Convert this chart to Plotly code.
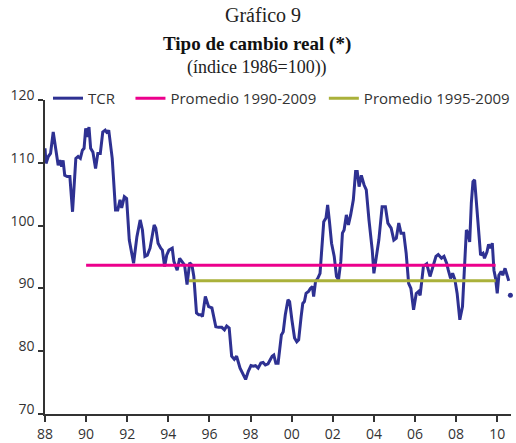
import plotly.graph_objects as go

# ---- data ----
tcr_year = [
    1988.00, 1988.05, 1988.16, 1988.27, 1988.40, 1988.52, 1988.64, 1988.72, 1988.81, 1988.88,
    1988.96, 1989.08, 1989.21, 1989.34, 1989.50, 1989.61, 1989.72, 1989.82, 1989.90, 1989.98,
    1990.06, 1990.14, 1990.22, 1990.33, 1990.46, 1990.57, 1990.69, 1990.81, 1990.93, 1991.04,
    1991.10, 1991.27, 1991.43, 1991.54, 1991.65, 1991.73, 1991.86, 1991.97, 1992.10, 1992.31,
    1992.47, 1992.63, 1992.74, 1992.86, 1992.98, 1993.11, 1993.31, 1993.39, 1993.50, 1993.63,
    1993.71, 1993.82, 1993.92, 1994.03, 1994.19, 1994.27, 1994.35, 1994.43, 1994.55, 1994.67,
    1994.79, 1994.91, 1995.04, 1995.15, 1995.24, 1995.37, 1995.48, 1995.59, 1995.66, 1995.80,
    1995.96, 1996.12, 1996.20, 1996.31, 1996.44, 1996.60, 1996.73, 1996.84, 1996.96, 1997.08,
    1997.21, 1997.32, 1997.49, 1997.65, 1997.76, 1997.89, 1998.02, 1998.13, 1998.24, 1998.37,
    1998.50, 1998.61, 1998.72, 1998.85, 1998.94, 1999.05, 1999.13, 1999.23, 1999.34, 1999.42,
    1999.50, 1999.59, 1999.69, 1999.82, 1999.90, 2000.01, 2000.14, 2000.25, 2000.34, 2000.46,
    2000.54, 2000.62, 2000.70, 2000.82, 2000.91, 2001.01, 2001.07, 2001.16, 2001.27, 2001.38,
    2001.47, 2001.56, 2001.67, 2001.75, 2001.84, 2001.94, 2002.07, 2002.18, 2002.28, 2002.39,
    2002.47, 2002.55, 2002.66, 2002.76, 2002.87, 2003.00, 2003.11, 2003.19, 2003.28, 2003.39,
    2003.52, 2003.63, 2003.76, 2003.92, 2004.00, 2004.13, 2004.24, 2004.40, 2004.56, 2004.68,
    2004.84, 2004.97, 2005.09, 2005.21, 2005.32, 2005.45, 2005.57, 2005.69, 2005.80, 2005.93,
    2006.06, 2006.17, 2006.25, 2006.41, 2006.57, 2006.73, 2006.86, 2007.02, 2007.13, 2007.29,
    2007.41, 2007.54, 2007.62, 2007.73, 2007.83, 2007.94, 2008.05, 2008.18, 2008.31, 2008.42,
    2008.50, 2008.58, 2008.66, 2008.74, 2008.82, 2008.90, 2008.98, 2009.10, 2009.19, 2009.31,
    2009.38, 2009.50, 2009.58, 2009.67, 2009.76, 2009.84, 2009.92, 2010.00, 2010.08, 2010.19,
    2010.27, 2010.38, 2010.48, 2010.56, 2010.60, 2010.64,
]
tcr_value = [
    112.3, 109.9, 111.0, 111.5, 114.9, 112.5, 109.6, 110.4, 109.4, 110.4,
    108.0, 107.8, 107.8, 102.2, 110.7, 111.0, 110.7, 112.0, 112.3, 115.5,
    114.1, 115.7, 112.3, 111.7, 109.1, 111.5, 111.5, 114.9, 115.2, 114.7,
    115.2, 110.7, 102.5, 102.5, 104.1, 102.8, 104.6, 104.3, 97.7, 94.0,
    98.2, 100.9, 99.3, 95.1, 95.3, 96.4, 100.1, 99.6, 97.2, 96.4,
    96.1, 93.5, 95.3, 96.1, 96.4, 94.3, 93.7, 92.9, 94.8, 94.3,
    93.7, 90.6, 94.1, 93.7, 91.9, 86.1, 85.8, 85.8, 85.5, 88.7,
    87.1, 86.9, 85.8, 83.9, 83.8, 83.8, 83.4, 84.0, 83.7, 79.2,
    78.7, 79.2, 77.3, 76.2, 75.5, 76.8, 77.7, 77.6, 77.7, 77.3,
    78.1, 78.2, 77.8, 78.0, 78.6, 79.2, 79.4, 78.1, 78.1, 80.5,
    82.6, 83.1, 85.8, 88.2, 87.9, 85.0, 82.1, 81.5, 81.8, 85.5,
    87.6, 87.9, 89.2, 89.5, 90.0, 90.3, 88.7, 91.1, 91.6, 92.4,
    96.9, 100.6, 101.2, 103.3, 100.6, 97.2, 95.1, 91.9, 91.4, 94.3,
    98.8, 99.3, 101.7, 100.1, 101.7, 104.1, 108.6, 108.6, 106.2, 108.0,
    106.5, 105.7, 100.9, 96.1, 92.4, 95.6, 97.7, 103.0, 103.0, 100.4,
    99.6, 97.7, 98.0, 100.4, 98.8, 98.8, 95.6, 90.8, 90.0, 86.6,
    89.2, 89.5, 88.9, 93.5, 93.9, 91.9, 93.5, 95.1, 95.4, 94.8,
    95.1, 94.0, 92.9, 91.6, 92.4, 91.4, 89.2, 85.0, 87.1, 95.6,
    99.3, 98.8, 97.4, 103.6, 107.0, 107.3, 104.1, 98.8, 95.3, 95.6,
    94.8, 95.8, 97.0, 96.4, 97.2, 92.9, 91.6, 89.2, 92.1, 92.7,
    92.1, 93.2, 92.1, 91.2, None, 88.9,
]

avg_1990_2009_years = [1990.0, 2009.92]
avg_1990_2009_value = [93.7, 93.7]
avg_1995_2009_years = [1995.0, 2009.92]
avg_1995_2009_value = [91.2, 91.2]

x_tick_vals = [1988, 1990, 1992, 1994, 1996, 1998, 2000, 2002, 2004, 2006, 2008, 2010]
x_tick_text = ["88", "90", "92", "94", "96", "98", "00", "02", "04", "06", "08", "10"]
y_tick_vals = [70, 80, 90, 100, 110, 120]

series_names = ["TCR", "Promedio 1990-2009", "Promedio 1995-2009"]
title_lines = ["Gráfico 9", "Tipo de cambio real (*)", "(índice 1986=100))"]

# ---- styles ----
BLUE = "#2E3192"
PINK = "#EC008C"
OLIVE = "#AAB13A"
TXT = "#333333"
SANS = "Open Sans, Noto Sans, sans-serif"
SERIF = "Liberation Serif, DejaVu Serif, serif"

fig = go.Figure()
fig.add_trace(go.Scatter(x=tcr_year, y=tcr_value, mode="lines", name=series_names[0],
                         line=dict(color=BLUE, width=3), connectgaps=False, legend="legend"))
fig.add_trace(go.Scatter(x=avg_1990_2009_years, y=avg_1990_2009_value, mode="lines",
                         name=series_names[1], line=dict(color=PINK, width=3), legend="legend2"))
fig.add_trace(go.Scatter(x=avg_1995_2009_years, y=avg_1995_2009_value, mode="lines",
                         name=series_names[2], line=dict(color=OLIVE, width=3), legend="legend3"))
# isolated last observation
fig.add_trace(go.Scatter(x=tcr_year[-1:], y=tcr_value[-1:], mode="markers",
                         marker=dict(color=BLUE, size=5), showlegend=False,
                         name=series_names[0], cliponaxis=False))

# three-line heading
fig.add_annotation(text=title_lines[0], x=0.467, y=1.270, xref="paper", yref="paper",
                   showarrow=False, yanchor="middle",
                   font=dict(family=SERIF, size=20, color="#222"))
fig.add_annotation(text="<b>" + title_lines[1] + "</b>", x=0.455, y=1.178,
                   xref="paper", yref="paper", showarrow=False, yanchor="middle",
                   font=dict(family=SERIF, size=19, color="#111"))
fig.add_annotation(text=title_lines[2], x=0.455, y=1.105, xref="paper", yref="paper",
                   showarrow=False, yanchor="middle",
                   font=dict(family=SERIF, size=18, color="#222"))

leg_common = dict(orientation="h", xanchor="left", y=1.005, yanchor="middle",
                  font=dict(family=SANS, size=15, color=TXT), bgcolor="rgba(0,0,0,0)",
                  borderwidth=0)

fig.update_layout(
    width=516, height=443,
    margin=dict(l=45, r=1, t=100, b=29, pad=0),
    paper_bgcolor="white", plot_bgcolor="white",
    font=dict(family=SANS, size=14, color=TXT),
    showlegend=True,
    legend=dict(x=0.0064, **leg_common),
    legend2=dict(x=0.1834, **leg_common),
    legend3=dict(x=0.5984, **leg_common),
    xaxis=dict(range=[1988, 2010.67], tickvals=x_tick_vals, ticktext=x_tick_text,
               showgrid=False, zeroline=False, showline=True, linecolor=TXT, linewidth=1.5,
               ticks="outside", ticklen=6, tickwidth=1.5, tickcolor=TXT, automargin=False,
               ticklabelstandoff=0,
               tickfont=dict(family=SANS, size=14, color=TXT)),
    yaxis=dict(range=[70, 120], tickvals=y_tick_vals, showgrid=False, zeroline=False,
               showline=True, linecolor=TXT, linewidth=1.5, ticks="outside", ticklen=5,
               tickwidth=1.5, tickcolor=TXT, automargin=False,
               ticklabelshift=-5, ticklabelstandoff=1,
               tickfont=dict(family=SANS, size=14, color=TXT)),
)

fig.write_html("out.html", config={"displayModeBar": False},
               post_script="document.body.style.margin='0px';")
